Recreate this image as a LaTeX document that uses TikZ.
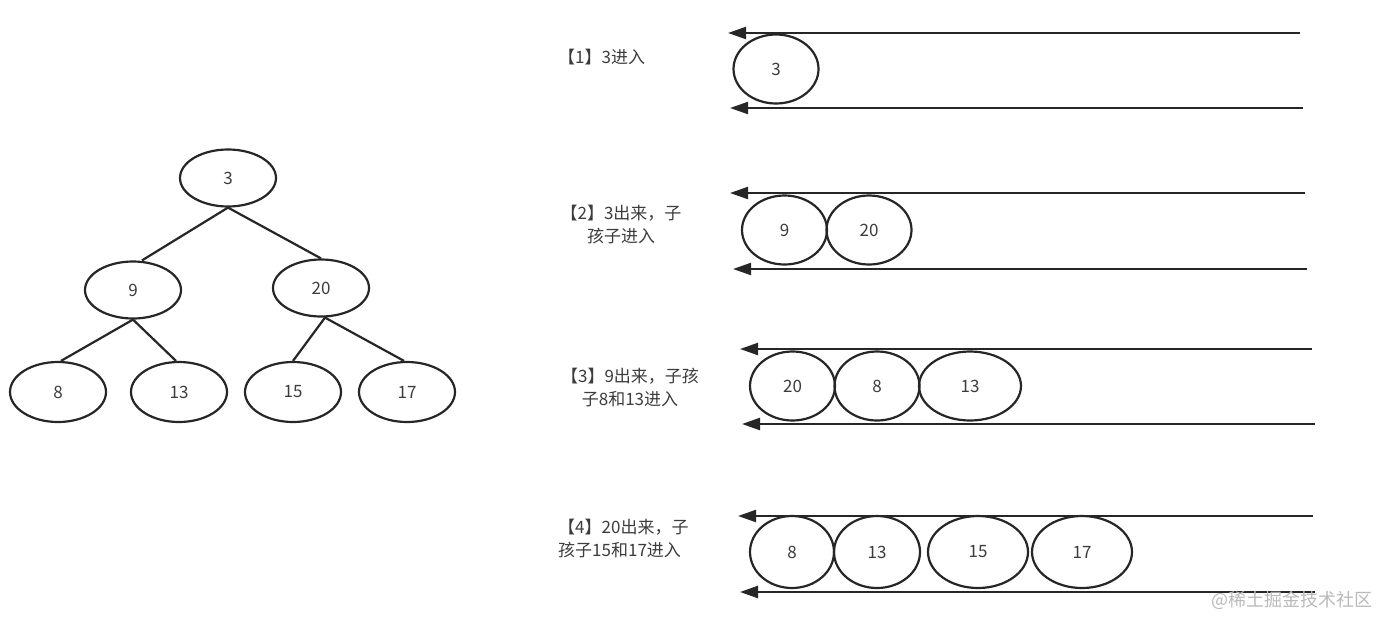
\documentclass[tikz,border=0pt]{standalone}
\usepackage{fontspec}
\setmainfont{Noto Sans CJK SC}
\usetikzlibrary{shapes.geometric,arrows.meta}
\definecolor{ink}{HTML}{262626}
\definecolor{txt}{HTML}{3C3C3C}
\tikzset{
  ell/.style={ellipse, draw=ink, line width=2.2pt, inner sep=0pt, text=txt, font=\fontsize{17}{19}\selectfont},
  tnode/.style={ell, minimum width=96pt, minimum height=57pt},
  qnode/.style={ell, minimum height=69pt},
  edge/.style={draw=ink, line width=2.2pt},
  arr/.style={draw=ink, line width=2.2pt, -{Triangle[length=18pt,width=12pt]}},
  lbl/.style={text=txt, font=\fontsize{17}{23}\selectfont, inner sep=0pt},
}
\begin{document}
\begin{tikzpicture}[x=1pt,y=-1pt]
\useasboundingbox (0,0) rectangle (1378,616);
% tree
\node[tnode] (t3) at (228,178) {3};
\node[tnode] (t9) at (133,290) {9};
\node[tnode] (t20) at (321,288) {20};
\node[tnode, minimum height=60pt] (t8) at (58,392) {8};
\node[tnode, minimum height=60pt] (t13) at (179,392) {13};
\node[tnode, minimum height=60pt] (t15) at (293,392) {15};
\node[tnode, minimum height=60pt] (t17) at (407,392) {17};
\draw[edge] (t3.south) -- ([xshift=9pt]t9.north);
\draw[edge] (t3.south) -- (t20.north);
\draw[edge] (t9.south) -- ([xshift=3pt]t8.north);
\draw[edge] (t9.south) -- ([xshift=-3pt]t13.north);
\draw[edge] ([xshift=4pt]t20.south) -- (t15.north);
\draw[edge] ([xshift=4pt]t20.south) -- ([xshift=-3pt]t17.north);
% panel 1
\node[lbl, anchor=west] (l1) at (558,57) {【1】3进入};
\coordinate (a1s) at (1300,33); \coordinate (a1e) at (728,33);
\coordinate (b1s) at (1303,108); \coordinate (b1e) at (730,108);
\draw[arr] (a1s) -- (a1e);
\draw[arr] (b1s) -- (b1e);
\node[qnode, minimum width=85pt] (p1a) at (776,69) {3};
% panel 2
\node[lbl, align=center] (l2) at (621,225) {【2】3出来，子\\孩子进入};
\coordinate (a2s) at (1305,193); \coordinate (a2e) at (730,193);
\coordinate (b2s) at (1307,269); \coordinate (b2e) at (733,269);
\draw[arr] (a2s) -- (a2e);
\draw[arr] (b2s) -- (b2e);
\node[qnode, minimum width=85pt] (p2a) at (784.5,230) {9};
\node[qnode, minimum width=85pt] (p2b) at (869,230) {20};
% panel 3
\node[lbl, align=center] (l3) at (630,387) {【3】9出来，子孩\\子8和13进入};
\coordinate (a3s) at (1312,349); \coordinate (a3e) at (740,349);
\coordinate (b3s) at (1315,424); \coordinate (b3e) at (742,424);
\draw[arr] (a3s) -- (a3e);
\draw[arr] (b3s) -- (b3e);
\node[qnode, minimum width=85pt] (p3a) at (792.5,386) {20};
\node[qnode, minimum width=85pt] (p3b) at (877,386) {8};
\node[qnode, minimum width=102pt] (p3c) at (970,386) {13};
% panel 4
\node[lbl, align=left, anchor=west] (l4) at (558,538) {【4】20出来，子\\孩子15和17进入};
\coordinate (a4s) at (1313,516); \coordinate (a4e) at (738,516);
\coordinate (b4s) at (1315,592); \coordinate (b4e) at (740,592);
\draw[arr] (a4s) -- (a4e);
\draw[arr] (b4s) -- (b4e);
\node[qnode, minimum width=84pt, minimum height=72pt] (p4a) at (792,552) {8};
\node[qnode, minimum width=86pt, minimum height=72pt] (p4b) at (877,552) {13};
\node[qnode, minimum width=100pt, minimum height=72pt] (p4c) at (978,552) {15};
\node[qnode, minimum width=100pt, minimum height=72pt] (p4d) at (1082,552) {17};
% watermark
\node[text=gray!55, font=\fontsize{18}{20}\selectfont, anchor=east, inner sep=0pt] (wm) at (1373,600) {@稀土掘金技术社区};
\end{tikzpicture}
\end{document}
